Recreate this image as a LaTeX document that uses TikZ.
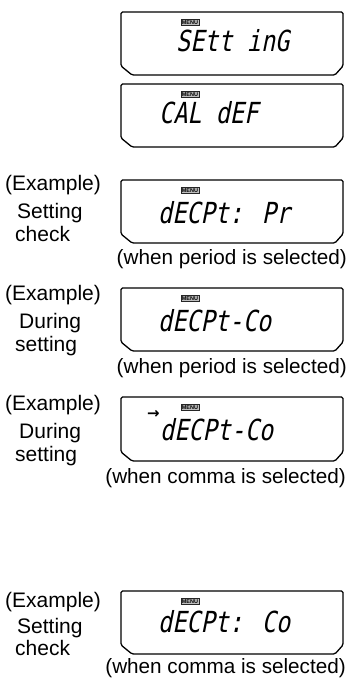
\documentclass[tikz,border=0pt]{standalone}
\usepackage{fontspec}
\setmainfont{Liberation Sans}
\newfontfamily\lcdfont{DejaVu Sans Mono}[FakeSlant=0.2,FakeStretch=0.81]
\newfontfamily\arrowfont{DejaVu Sans}
\usetikzlibrary{positioning}

\tikzset{
  panel/.style={line width=1.3pt, rounded corners=1.5pt},
  lcd/.style={font={\lcdfont\fontsize{29}{29}\selectfont}, inner sep=0pt, anchor=base west},
  menuicon/.style={draw=black!85, fill=black!25, line width=0.6pt, inner sep=0pt,
    minimum width=18pt, minimum height=6.5pt, font={\bfseries\fontsize{5.5}{5.5}\selectfont}},
  sidetext/.style={font={\fontsize{21}{21}\selectfont}, inner sep=0pt, anchor=base west},
  caption/.style={font={\fontsize{20.7}{21}\selectfont}, inner sep=0pt, anchor=base east},
}

% panel outline with MENU mark: name, top, bottom
\newcommand{\lcdpanel}[3]{%
  \draw[panel] (132,#3) -- (121,#3-9) -- (121,#2) -- (343,#2) -- (343,#3-9) -- (335,#3) -- cycle;
  \node[menuicon] (#1menu) at (190,#2+10.5) {MENU};
}

\begin{document}
\begin{tikzpicture}[x=1pt,y=-1pt]
        \useasboundingbox (0,0) rectangle (356,679);

        % Panels
        \lcdpanel{p1}{12}{75}
        \lcdpanel{p2}{84}{147}
        \lcdpanel{p3}{180}{243}
        \lcdpanel{p4}{288}{351}
        \lcdpanel{p5}{397}{461}
        \lcdpanel{p6}{591}{654}

        % Display texts
        \node[lcd] (p1txt) at (176,52) {SEtt inG};
        \node[lcd] (p2txt) at (159,124) {CAL dEF};
        \node[lcd] (p3txt) at (158,223) {dECPt: Pr};
        \node[lcd] (p4txt) at (158,331) {dECPt-Co};
        \node[lcd] (p5txt) at (160,440) {dECPt-Co};
        \node[font={\arrowfont\bfseries\fontsize{15}{15}\selectfont}, inner sep=0pt, anchor=base west]
          (p5arrow) at (147,418) {→};
        \node[lcd] (p6txt) at (158,632) {dECPt: Co};

        % Side notes
        \node[sidetext] (p3ex) at (5,190) {(Example)};
        \node[sidetext] (p3a) at (17,218) {Setting};
        \node[sidetext] (p3b) at (15,241) {check};

        \node[sidetext] (p4ex) at (5,300) {(Example)};
        \node[sidetext] (p4a) at (19,328) {During};
        \node[sidetext] (p4b) at (15,351) {setting};

        \node[sidetext] (p5ex) at (5,410) {(Example)};
        \node[sidetext] (p5a) at (19,438) {During};
        \node[sidetext] (p5b) at (15,461) {setting};

        \node[sidetext] (p6ex) at (5,607) {(Example)};
        \node[sidetext] (p6a) at (17,633) {Setting};
        \node[sidetext] (p6b) at (15,655) {check};

        % Captions under the panels
        \node[caption] (p3cap) at (347,264) {(when period is selected)};
        \node[caption] (p4cap) at (347,373) {(when period is selected)};
        \node[caption] (p5cap) at (346,483) {(when comma is selected)};
        \node[caption] (p6cap) at (346,673) {(when comma is selected)};
    \end{tikzpicture}
\end{document}
